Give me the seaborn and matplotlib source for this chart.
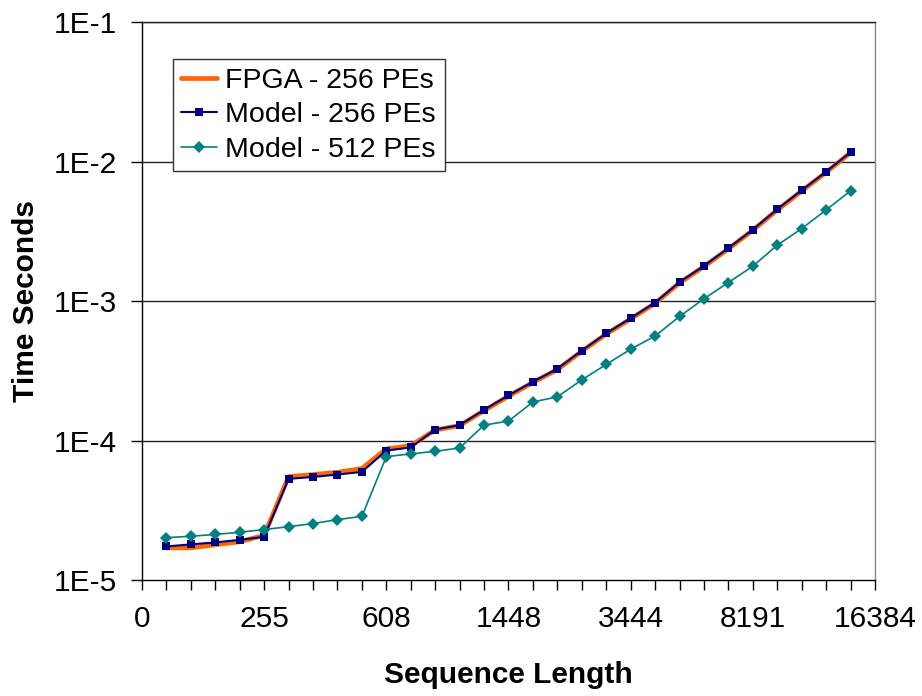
import numpy as np
import pandas as pd
import matplotlib
matplotlib.use("Agg")
import matplotlib.pyplot as plt
import seaborn as sns

# category positions of the points (labels only every 5th category)
seq_idx = list(range(1, 30))
tick_pos = [0, 5, 10, 15, 20, 25, 30]
tick_labels = ["0", "255", "608", "1448", "3444", "8191", "16384"]

fpga_256 = [1.70e-5, 1.70e-5, 1.79e-5, 1.88e-5, 2.09e-5, 5.51e-5, 5.70e-5, 5.92e-5,
            6.30e-5, 8.71e-5, 9.19e-5, 1.19e-4, 1.28e-4, 1.64e-4, 2.08e-4, 2.61e-4,
            3.23e-4, 4.37e-4, 5.80e-4, 7.45e-4, 9.65e-4, 1.35e-3, 1.77e-3, 2.37e-3,
            3.22e-3, 4.50e-3, 6.16e-3, 8.38e-3, 1.16e-2]
model_256 = [1.74e-5, 1.80e-5, 1.86e-5, 1.94e-5, 2.04e-5, 5.31e-5, 5.48e-5, 5.70e-5,
             5.96e-5, 8.47e-5, 8.93e-5, 1.20e-4, 1.29e-4, 1.66e-4, 2.11e-4, 2.64e-4,
             3.27e-4, 4.42e-4, 5.87e-4, 7.55e-4, 9.77e-4, 1.37e-3, 1.79e-3, 2.40e-3,
             3.26e-3, 4.56e-3, 6.24e-3, 8.48e-3, 1.17e-2]
model_512 = [2.01e-5, 2.06e-5, 2.12e-5, 2.20e-5, 2.30e-5, 2.41e-5, 2.54e-5, 2.71e-5,
             2.86e-5, 7.67e-5, 8.02e-5, 8.37e-5, 8.85e-5, 1.29e-4, 1.38e-4, 1.89e-4,
             2.06e-4, 2.72e-4, 3.52e-4, 4.52e-4, 5.62e-4, 7.76e-4, 1.04e-3, 1.36e-3,
             1.78e-3, 2.52e-3, 3.31e-3, 4.51e-3, 6.17e-3]

y_ticks = [1e-5, 1e-4, 1e-3, 1e-2, 1e-1]
y_labels = ["1E-5", "1E-4", "1E-3", "1E-2", "1E-1"]

sns.set_style("white")
plt.rcParams["font.family"] = ["Liberation Sans", "DejaVu Sans"]
plt.rcParams["text.color"] = "black"
plt.rcParams["axes.labelcolor"] = "black"

fig = plt.figure(figsize=(9.22, 6.96), dpi=100)
ax = fig.add_axes([0.154, 0.1667, 0.795, 0.8013])

sns.lineplot(x=seq_idx, y=fpga_256, ax=ax, color="#FF6600", linewidth=3.4,
             label="FPGA - 256 PEs", zorder=3)
sns.lineplot(x=seq_idx, y=model_256, ax=ax, color="#000080", linewidth=1.5,
             marker="s", markersize=6, markeredgewidth=0, label="Model - 256 PEs", zorder=4)
sns.lineplot(x=seq_idx, y=model_512, ax=ax, color="#008080", linewidth=1.2,
             marker="D", markersize=6.5, markeredgewidth=0, label="Model - 512 PEs", zorder=4)

ax.set_yscale("log")
ax.set_ylim(1e-5, 1e-1)
ax.set_yticks(y_ticks)
ax.set_yticklabels(y_labels)
ax.yaxis.set_minor_locator(matplotlib.ticker.NullLocator())
ax.set_xlim(0, 30)
ax.set_xticks(range(0, 31))
ax.set_xticklabels([tick_labels[tick_pos.index(i)] if i in tick_pos else "" for i in range(31)])

# gridlines at each decade
for y in y_ticks[1:]:
    ax.axhline(y, color="#222222", linewidth=1.0, zorder=1)

ax.tick_params(axis="both", labelsize=21.5, colors="black", direction="out")
ax.tick_params(axis="y", length=8, width=1, pad=10, left=True)
ax.tick_params(axis="x", length=7, width=1, pad=11, bottom=True)

ax.spines["left"].set_color("black")
ax.spines["bottom"].set_color("black")
ax.spines["right"].set_color("#888888")
ax.spines["top"].set_color("#222222")
for s in ax.spines.values():
    s.set_linewidth(1.0)

ax.set_xlabel("Sequence Length", fontsize=21.5, fontweight="bold", labelpad=20, color="black")
ax.set_ylabel("Time Seconds", fontsize=21.5, fontweight="bold", labelpad=10, color="black")

leg = ax.legend(loc="upper left", bbox_to_anchor=(0.042, 0.934), borderaxespad=0,
                fontsize=20.5, frameon=True, fancybox=False, shadow=False,
                handlelength=1.25, handletextpad=0.3, labelspacing=0.3,
                borderpad=0.3)
leg.get_frame().set_edgecolor("#333333")
leg.get_frame().set_linewidth(1.0)
leg.get_frame().set_alpha(1)
leg.set_zorder(10)
for t in leg.get_texts():
    t.set_color("black")

plt.savefig("out.png", dpi=100)
